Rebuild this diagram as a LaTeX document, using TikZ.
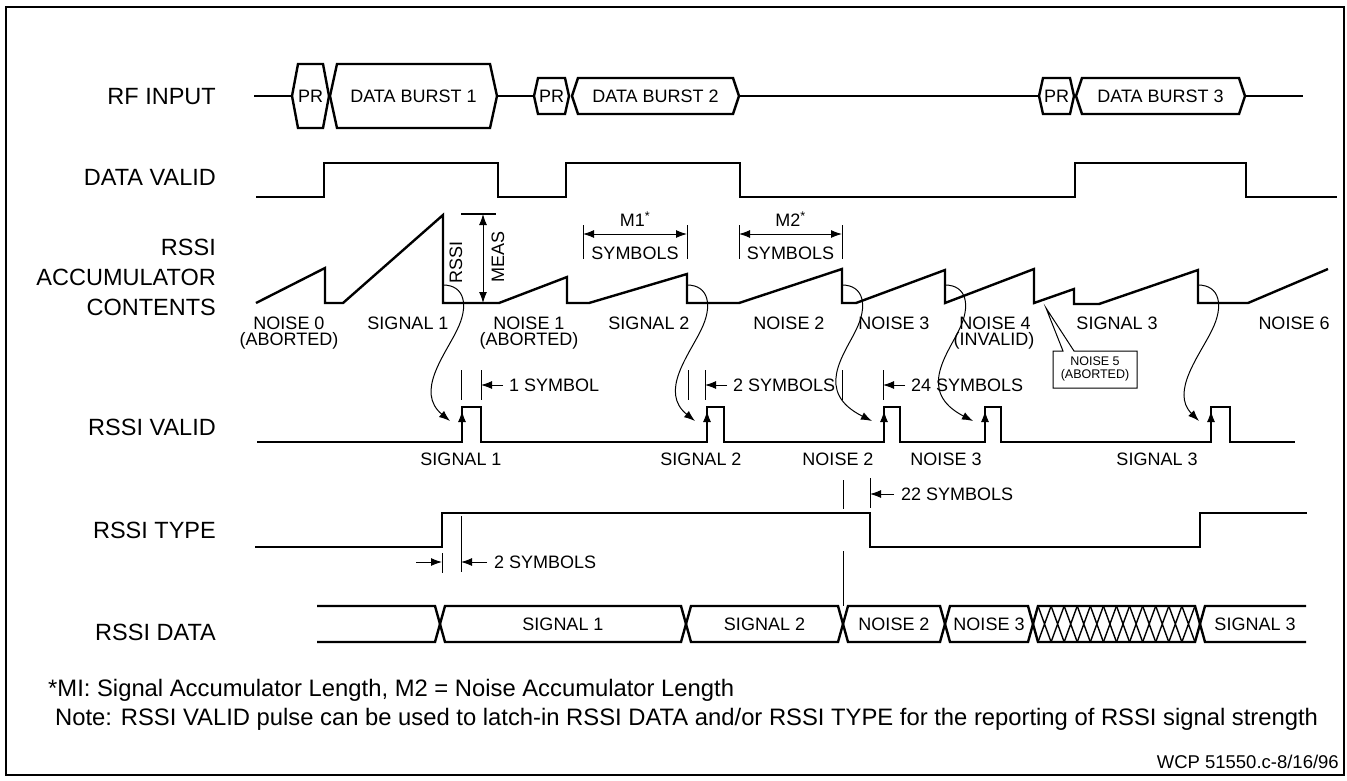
\documentclass[tikz,border=0pt]{standalone}
\usepackage{fontspec}
\setmainfont{Liberation Sans}
\usetikzlibrary{arrows.meta}
\begin{document}
\begin{tikzpicture}[x=1pt, y=-1pt, >={Latex[length=11pt, width=8pt]},
        wave/.style={black, line width=2.4pt, line join=miter},
        fine/.style={black, line width=1pt},
        sigfont/.style={font=\fontsize{23.5}{30}\selectfont},
        notefont/.style={font=\fontsize{23.8}{29}\selectfont},
        txtfont/.style={font=\fontsize{18}{18}\selectfont},
        rowname/.style={sigfont, anchor=east, align=right, inner sep=0pt},
        tag/.style={txtfont, inner sep=0pt, align=center}]
        \useasboundingbox (0,0) rectangle (1347,780);
        \draw [black, line width=1.2pt] (6,7) rectangle (1344,775);

        \newcommand{\drawbus}[6]{
            \draw [wave] (#2,0) -- (#2+#5,-#4) -- (#3-#5,-#4) -- (#3,0) -- (#3-#5,#4) -- (#2+#5,#4) -- cycle;
            \node [tag] (#1) at ({(#2+#3)/2},0) {#6};
        }

        \node [rowname] (rfin) at (216,97) {RF INPUT};
        \node [rowname] (dvalid) at (216,177) {DATA VALID};
        \node [rowname] (acc) at (216,277) {RSSI\\ACCUMULATOR\\CONTENTS};
        \node [rowname] (rvalid) at (216,427) {RSSI VALID};
        \node [rowname] (rtype) at (216,530) {RSSI TYPE};
        \node [rowname] (rdata) at (216,632) {RSSI DATA};

        \begin{scope}[shift={(0,96)}]
            \draw [wave] (254,0) -- (292,0) (497,0) -- (534,0) (739,0) -- (1039,0) (1245,0) -- (1303,0);
            \drawbus{pr1}{292}{329}{32}{6}{PR}
            \drawbus{burst1}{330}{497}{32}{7}{DATA BURST 1}
            \drawbus{pr2}{534}{569}{18}{4}{PR}
            \drawbus{burst2}{572}{739}{18}{6}{DATA BURST 2}
            \drawbus{pr3}{1039}{1074}{18}{4}{PR}
            \drawbus{burst3}{1076}{1245}{18}{6}{DATA BURST 3}
        \end{scope}

        \draw [wave] (256,197) -- (324,197) -- (324,163) -- (498,163) -- (498,197) -- (566,197) -- (566,163)
            -- (740,163) -- (740,197) -- (1075,197) -- (1075,163) -- (1246,163) -- (1246,197) -- (1337,197);

        \draw [wave] (256,303) -- (325,268) -- (325,303) -- (343,303) -- (443,215) -- (443,303) -- (499,303)
            -- (567,277) -- (567,303) -- (589,303) -- (687,274) -- (687,303) -- (739,303) -- (842,269)
            -- (842,303) -- (856,303) -- (945,270) -- (945,303) -- (1034,269) -- (1034,303) -- (1074,289)
            -- (1074,304) -- (1099,304) -- (1198,270) -- (1198,303) -- (1248,303) -- (1328,269);

        \draw [black, line width=1.8pt] (461,214) -- (496,214);
        \draw [fine, <->] (483,214) -- (483,303);
        \node [tag, rotate=90] (meas) at (498,257) {MEAS};
        \node [tag, rotate=90] (rssi) at (456,262) {RSSI};

        \foreach \xa/\xb/\m in {583/687/1, 739/842/2} {
            \draw [fine] (\xa,225) -- (\xa,259) (\xb,225) -- (\xb,259);
            \draw [fine, <->] (\xa,234) -- (\xb,234);
            \node [tag] (m\m) at ({(\xa+\xb)/2},219) {M\m\textsuperscript{*}};
            \node [tag] (msym\m) at ({(\xa+\xb)/2},253) {SYMBOLS};
        }

        \foreach \x/\t/\n in {289/NOISE 0/n0, 408/SIGNAL 1/s1, 529/NOISE 1/n1, 649/SIGNAL 2/s2, 789/NOISE 2/n2,
                894/NOISE 3/n3, 995/NOISE 4/n4, 1117/SIGNAL 3/s3, 1294/NOISE 6/n6} {
            \node [tag] (acc\n) at (\x,323) {\t};
        }
        \node [tag] (acc0b) at (289,341) {(ABORTED)};
        \node [tag] (acc1b) at (529,341) {(ABORTED)};
        \node [tag] (acc4b) at (994,341) {(INVALID)};

        \draw [fine] (1063,351) -- (1046,308) -- (1074,351) -- (1137,351) -- (1137,388) -- (1053,388) -- (1053,351) -- cycle;
        \node [font=\fontsize{12.5}{13}\selectfont, align=center, inner sep=0pt] (acc5) at (1095,369) {NOISE 5\\(ABORTED)};

        \foreach \d/\r in {443/462, 687/707, 842/884, 945/985, 1198/1211} {
            \draw [fine, ->] (\d,285) .. controls (\d+22,285) and (\d+26,306) .. (\d+14,330)
                .. controls (\d+2,355) and (\d-28,392) .. (\r-12,421);
        }

        \foreach \x in {461, 481, 688, 705, 842, 883} {
            \draw [fine] (\x,370) -- (\x,400);
        }
        \foreach \x/\t/\n in {481/1 SYMBOL/a, 705/2 SYMBOLS/b, 883/24 SYMBOLS/c} {
            \draw [fine, ->] (\x+22,385) -- (\x,385);
            \node [tag, anchor=west] (wait\n) at (\x+28,385) {\t};
        }

        \draw [wave] (257,442) -- (462,442) -- (462,407) -- (481,407) -- (481,442) -- (707,442) -- (707,407)
            -- (724,407) -- (724,442) -- (884,442) -- (884,407) -- (900,407) -- (900,442) -- (985,442)
            -- (985,407) -- (1001,407) -- (1001,442) -- (1211,442) -- (1211,407) -- (1230,407) -- (1230,442) -- (1295,442);
        \foreach \r in {462, 707, 884, 985, 1211} {
            \draw [fine, ->] (\r,442) -- (\r,411);
        }
        \foreach \x/\t/\n in {461/SIGNAL 1/s1, 701/SIGNAL 2/s2, 838/NOISE 2/n2, 946/NOISE 3/n3, 1157/SIGNAL 3/s3} {
            \node [tag] (valid\n) at (\x,459) {\t};
        }

        \draw [fine] (843,480) -- (843,509) (870,478) -- (870,508);
        \draw [fine, ->] (894,494) -- (870,494);
        \node [tag, anchor=west] (waitd) at (901,494) {22 SYMBOLS};

        \draw [wave] (255,547) -- (442,547) -- (442,513) -- (870,513) -- (870,547) -- (1200,547) -- (1200,513) -- (1307,513);
        \draw [fine] (442,553) -- (442,573) (461,516) -- (461,572);
        \draw [fine, ->] (416,562) -- (442,562);
        \draw [fine, ->] (487,562) -- (461,562);
        \node [tag, anchor=west] (waite) at (494,562) {2 SYMBOLS};

        \draw [fine] (843,551) -- (843,606);

        \begin{scope}[shift={(0,624)}]
            \draw [wave] (317,-18) -- (435,-18) -- (440,0) -- (435,18) -- (317,18);
            \drawbus{data1}{440}{686}{18}{5}{SIGNAL 1}
            \drawbus{data2}{686}{843}{18}{5}{SIGNAL 2}
            \drawbus{data3}{843}{945}{18}{5}{NOISE 2}
            \drawbus{data4}{945}{1033}{18}{5}{NOISE 3}
            \draw [wave] (1033,0) -- (1038,-18) -- (1195,-18) -- (1200,0) -- (1195,18) -- (1038,18) -- cycle;
            \foreach \i in {0,...,11} {
                \draw [black, line width=1.4pt] ({1038+\i*13.08},-18) -- ({1051.08+\i*13.08},18)
                    ({1038+\i*13.08},18) -- ({1051.08+\i*13.08},-18);
            }
            \draw [wave] (1306,-18) -- (1205,-18) -- (1200,0) -- (1205,18) -- (1306,18);
            \node [tag] (data5) at (1255,0) {SIGNAL 3};
        \end{scope}

        \node [notefont, anchor=base west, inner sep=0pt] (note1) at (48,696.5) {*MI: Signal Accumulator Length, M2 = Noise Accumulator Length};
        \node [notefont, anchor=base west, inner sep=0pt] (note2) at (55,725.5) {Note: RSSI VALID pulse can be used to latch-in RSSI DATA and/or RSSI TYPE for the reporting of RSSI signal strength};
        \node [font=\fontsize{18.5}{18.5}\selectfont, anchor=base east, inner sep=0pt] (wcp) at (1339,768.5) {WCP 51550.c-8/16/96};
    \end{tikzpicture}
\end{document}
